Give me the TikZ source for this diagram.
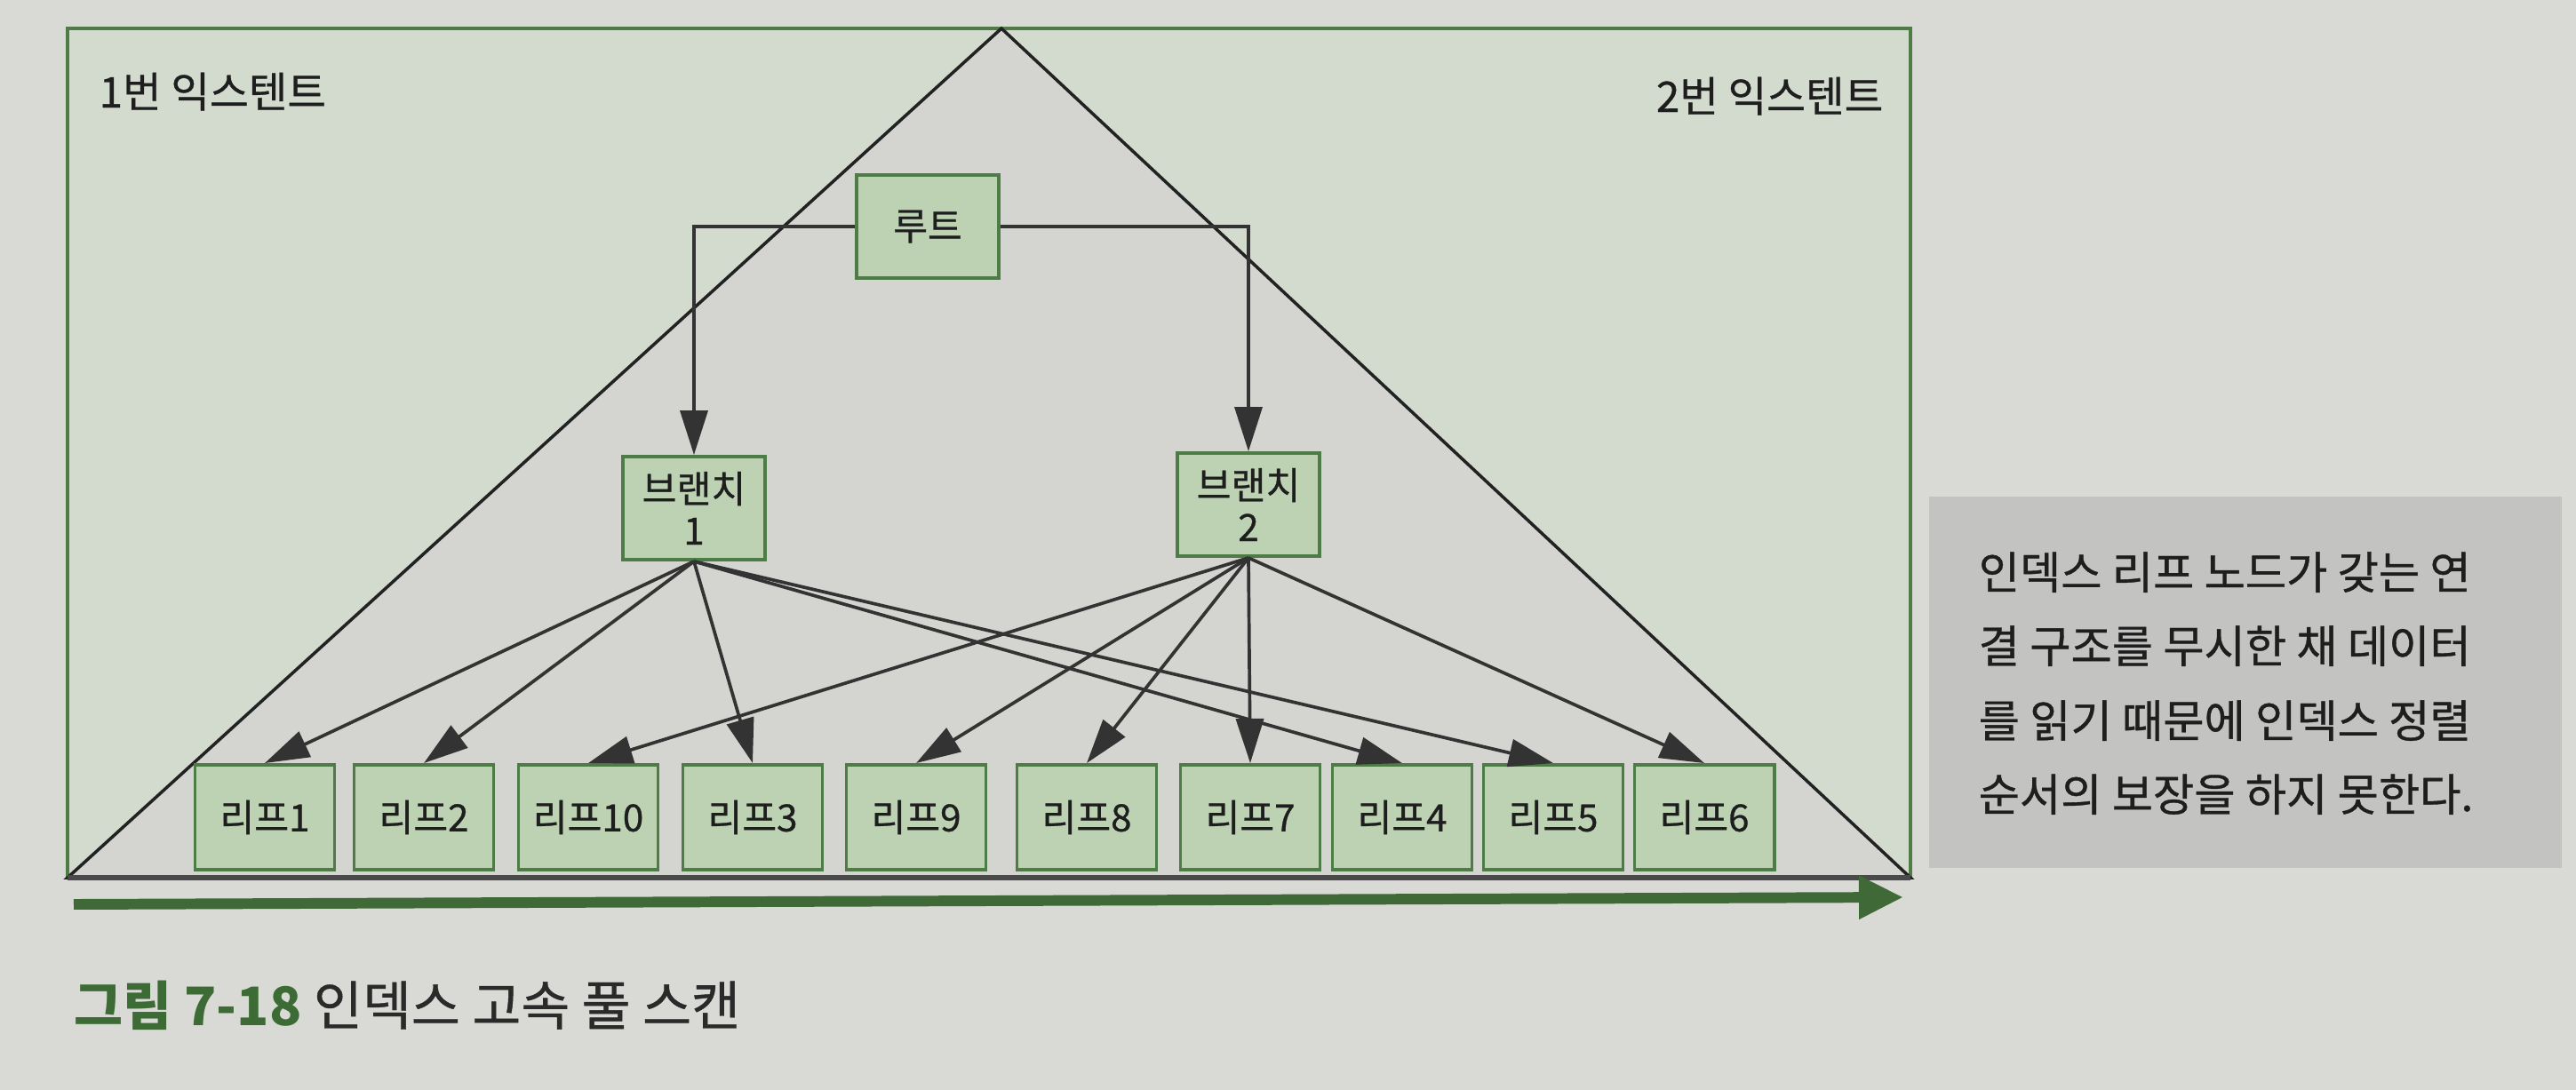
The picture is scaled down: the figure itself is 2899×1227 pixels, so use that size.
\documentclass[tikz,border=0pt]{standalone}
\usepackage{fontspec}
\setmainfont{Noto Sans CJK KR}
\newfontfamily\medfont[FakeBold=0.7]{Noto Sans CJK KR}
\usetikzlibrary{arrows.meta}
\definecolor{pagebg}{HTML}{D9D9D5}
\definecolor{rectfill}{HTML}{D3DACE}
\definecolor{rectborder}{HTML}{4F7B47}
\definecolor{trifill}{HTML}{D4D5D1}
\definecolor{linegray}{HTML}{222222}
\definecolor{basegray}{HTML}{4A4A4A}
\definecolor{nodefill}{HTML}{BCD2B3}
\definecolor{nodeborder}{HTML}{4E7C46}
\definecolor{arrowgray}{HTML}{333333}
\definecolor{scangreen}{HTML}{3F6A37}
\definecolor{notefill}{HTML}{C3C3C1}
\definecolor{txt}{HTML}{1E1E1E}
\definecolor{captxt}{HTML}{2A2A2A}
\definecolor{capgreen}{HTML}{3D6B35}
\begin{document}
\begin{tikzpicture}[x=0.01cm,y=-0.01cm,
  box/.style={draw=nodeborder, line width=1.1pt, fill=nodefill, minimum width=1.6cm, minimum height=1.16cm, inner sep=0pt, font=\medfont\fontsize{12}{13.4}\selectfont, text=txt, align=center},
  leafbox/.style={box, minimum width=1.57cm, minimum height=1.18cm},
  arr/.style={draw=arrowgray, line width=1.05pt, -{Triangle[length=0.5cm,width=0.31cm]}},
  scan/.style={draw=scangreen, line width=3.4pt, -{Triangle[length=0.5cm,width=0.46cm]}},
  lbl/.style={font=\medfont\fontsize{13.5}{15}\selectfont, text=txt, inner sep=0pt},
  noteline/.style={font=\medfont\fontsize{14.3}{16}\selectfont, text=txt, inner sep=0pt, anchor=base west}
]
\fill[pagebg] (0,0) rectangle (2899,1227);
\useasboundingbox (0,0) rectangle (2899,1227);
% extent rectangle and index triangle
\filldraw[fill=rectfill, draw=rectborder, line width=1pt] (76,32) rectangle (2150,988);
\filldraw[fill=trifill, draw=linegray, line width=1pt] (76,988) -- (1127,32) -- (2150,988) -- cycle;
\draw[basegray, line width=1.8pt] (76,988) -- (2150,988);
% extent labels
\node[lbl, anchor=base west] (ext1) at (111,121) {1번 익스텐트};
\node[lbl, anchor=base east] (ext2) at (2120,126) {2번 익스텐트};
% nodes
\node[box] (root) at (1044,255) {루트};
\node[box] (b1) at (781,572) {브랜치\\1};
\node[box] (b2) at (1405,568) {브랜치\\2};
\node[leafbox] (l1) at (298,920) {리프1};
\node[leafbox] (l2) at (477,920) {리프2};
\node[leafbox] (l10) at (662,920) {리프10};
\node[leafbox] (l3) at (847,920) {리프3};
\node[leafbox] (l9) at (1031,920) {리프9};
\node[leafbox] (l8) at (1223,920) {리프8};
\node[leafbox] (l7) at (1407,920) {리프7};
\node[leafbox] (l4) at (1578,920) {리프4};
\node[leafbox] (l5) at (1748,920) {리프5};
\node[leafbox] (l6) at (1918,920) {리프6};
% root to branches
\draw[arr] (root.west) -| (b1.north);
\draw[arr] (root.east) -| (b2.north);
% branch 1 to leaves
\foreach \t in {l1,l2,l3,l4,l5} \draw[arr] (b1.south) -- (\t.north);
% branch 2 to leaves
\foreach \t in {l10,l9,l8,l7,l6} \draw[arr] (b2.south) -- (\t.north);
% scan arrow
\coordinate (scanstart) at (83,1018);
\coordinate (scanend) at (2142,1010);
\draw[scan] (scanstart) -- (scanend);
% note box
\node[fill=notefill, minimum width=7.12cm, minimum height=4.17cm, inner sep=0pt] (notebox) at (2527,768) {};
\node[noteline] (note1) at (2226,663) {인덱스 리프 노드가 갖는 연};
\node[noteline] (note2) at (2226,746) {결 구조를 무시한 채 데이터};
\node[noteline] (note3) at (2226,830) {를 읽기 때문에 인덱스 정렬};
\node[noteline] (note4) at (2226,913) {순서의 보장을 하지 못한다.};
% caption
\node[anchor=base west, inner sep=0pt, font=\medfont\fontsize{17}{19}\selectfont, text=captxt] (caption) at (83,1154) {\textcolor{capgreen}{\normalfont\bfseries\fontsize{17}{19}\selectfont 그림 7-18} 인덱스 고속 풀 스캔};
\end{tikzpicture}
\end{document}
